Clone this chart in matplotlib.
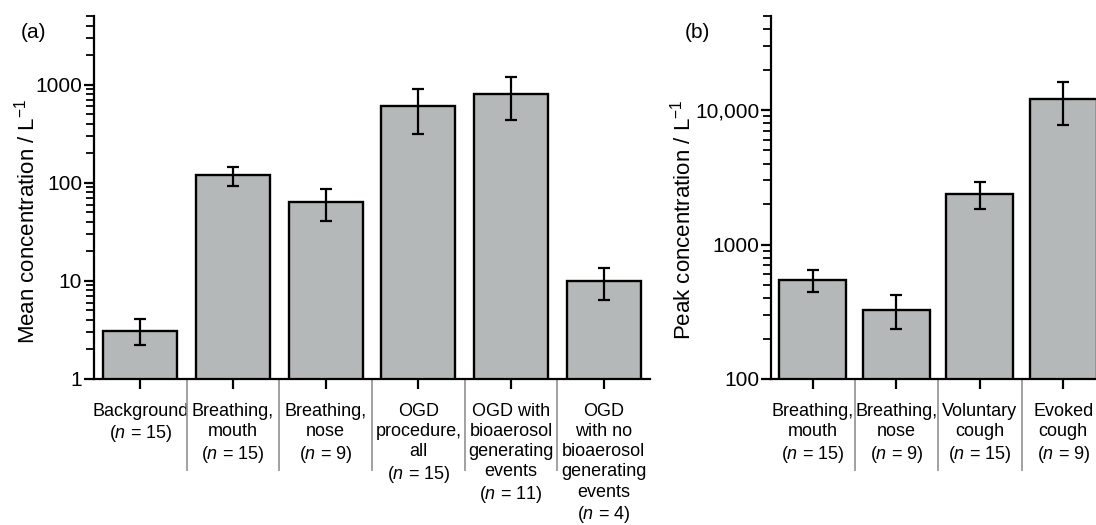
import numpy as np
import matplotlib
matplotlib.use("Agg")
import matplotlib.pyplot as plt
import matplotlib.transforms as mtransforms

plt.rcParams['font.family'] = ['Liberation Sans', 'DejaVu Sans']
plt.rcParams['mathtext.fontset'] = 'custom'
plt.rcParams['mathtext.rm'] = 'Liberation Sans'
plt.rcParams['mathtext.it'] = 'Liberation Sans:italic'

# panel (a): mean concentration
cats_a = ['Background\n($n$ = 15)',
          'Breathing,\nmouth\n($n$ = 15)',
          'Breathing,\nnose\n($n$ = 9)',
          'OGD\nprocedure,\nall\n($n$ = 15)',
          'OGD with\nbioaerosol\ngenerating\nevents\n($n$ = 11)',
          'OGD\nwith no\nbioaerosol\ngenerating\nevents\n($n$ = 4)']
mean_a = [3.1, 120, 64, 600, 810, 10]
low_a = [2.2, 93, 41, 311, 439, 6.4]
high_a = [4.1, 143, 86, 895, 1200, 13.5]
yticks_a = [1, 10, 100, 1000]
ytick_labels_a = ['1', '10', '100', '1000']

# panel (b): peak concentration
cats_b = ['Breathing,\nmouth\n($n$ = 15)',
          'Breathing,\nnose\n($n$ = 9)',
          'Voluntary\ncough\n($n$ = 15)',
          'Evoked\ncough\n($n$ = 9)']
peak_b = [548, 327, 2360, 12100]
low_b = [440, 237, 1824, 7730]
high_b = [650, 424, 2920, 16250]
yticks_b = [100, 1000, 10000]
ytick_labels_b = ['100', '1000', '10,000']

bar_color = '#b5b8b8'
sep_color = '#9a9a9a'

W, H = 1096, 525
fig = plt.figure(figsize=(W / 100, H / 100), dpi=100)


def panel(ax, cats, vals, low, high, ylim, yticks, ylabels):
    x = np.arange(len(cats))
    vals = np.array(vals)
    yerr = [vals - np.array(low), np.array(high) - vals]
    ax.bar(x, vals, width=0.8, color=bar_color, edgecolor='black', linewidth=1.7, zorder=2)
    ax.errorbar(x, vals, yerr=yerr, fmt='none', ecolor='black', elinewidth=1.6,
                capsize=4.5, capthick=1.6, zorder=3)
    ax.set_yscale('log')
    ax.set_ylim(*ylim)
    ax.set_xlim(-0.5, len(cats) - 0.5)
    ax.set_yticks(yticks)
    ax.set_yticklabels(ylabels, fontsize=15)
    ax.set_xticks(x)
    ax.set_xticklabels(cats, fontsize=13, linespacing=1.25, va='top')
    for s in ['top', 'right']:
        ax.spines[s].set_visible(False)
    for s in ['left', 'bottom']:
        ax.spines[s].set_linewidth(1.6)
    ax.tick_params(axis='y', which='major', length=7.5, width=1.6, pad=1)
    ax.tick_params(axis='y', which='minor', length=5.5, width=1.3)
    ax.tick_params(axis='x', which='major', length=7, width=1.6, pad=10)
    # grey separators between category labels
    trans = mtransforms.blended_transform_factory(ax.transData, ax.transAxes)
    for b in x[:-1] + 0.5:
        ax.plot([b, b], [0, -0.25], color=sep_color, lw=1.3, transform=trans, clip_on=False)


ax_a = fig.add_axes([94 / W, 1 - 379 / H, 556 / W, 363 / H])
panel(ax_a, cats_a, mean_a, low_a, high_a, (1, 5000), yticks_a, ytick_labels_a)

ax_b = fig.add_axes([771 / W, 1 - 379 / H, 334 / W, 363 / H])
panel(ax_b, cats_b, peak_b, low_b, high_b, (100, 50000), yticks_b, ytick_labels_b)

fig.text(27 / W, 1 - 221 / H, 'Mean concentration / L$^{-1}$', rotation=90,
         ha='center', va='center', fontsize=16)
fig.text(683 / W, 1 - 220 / H, 'Peak concentration / L$^{-1}$', rotation=90,
         ha='center', va='center', fontsize=16)
fig.text(34 / W, 1 - 32 / H, '(a)', ha='center', va='center', fontsize=15)
fig.text(697 / W, 1 - 32 / H, '(b)', ha='center', va='center', fontsize=15)

fig.savefig('out.png', dpi=100)
